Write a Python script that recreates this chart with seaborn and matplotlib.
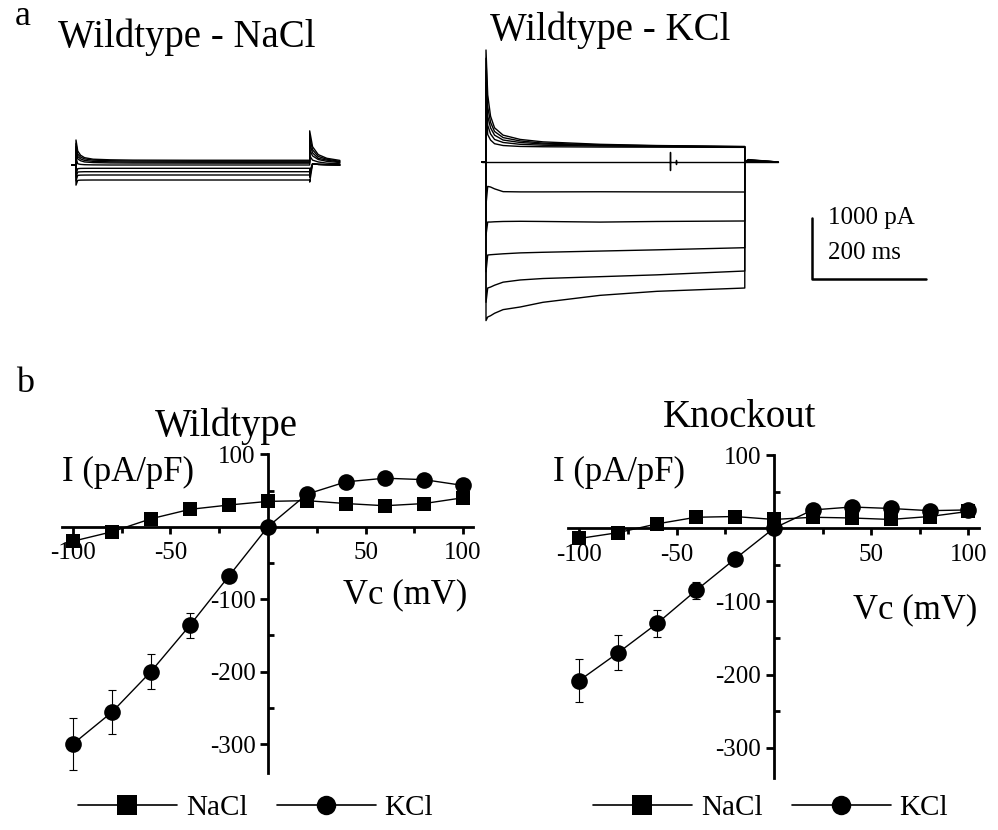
import numpy as np
import pandas as pd
import matplotlib
matplotlib.use("Agg")
import matplotlib.pyplot as plt
from matplotlib.lines import Line2D
import seaborn as sns

sns.set_theme(style="white")
plt.rcParams["font.family"] = ["Liberation Serif", "DejaVu Serif"]
plt.rcParams["axes.unicode_minus"] = False
plt.rcParams["text.color"] = "black"
plt.rcParams["xtick.color"] = "black"
plt.rcParams["ytick.color"] = "black"
plt.rcParams["axes.labelcolor"] = "black"

# ---------------- data: panel b (I-V curves) ----------------
voltage = [-100, -80, -60, -40, -20, 0, 20, 40, 60, 80, 100]
wt_nacl = [-20, -7, 11, 24, 30, 35, 36, 32, 29, 32, 40]
wt_kcl = [-300, -256, -200, -136, -68, 0, 45, 62, 67, 65, 57]
wt_kcl_err = [36, 30, 24, 17, 0, 0, 0, 0, 0, 0, 0]
ko_nacl = [-14, -6, 6, 15, 16, 12, 15, 14, 12, 16, 23]
ko_kcl = [-208, -170, -130, -85, -42, 0, 25, 29, 27, 24, 25]
ko_kcl_err = [29, 24, 18, 12, 0, 0, 0, 0, 0, 0, 0]
x_major = [-100, -50, 50, 100]
x_minor = [-75, -25, 25, 75]
y_major = [100, -100, -200, -300]
y_minor = [50, -50, -150, -250]

# ---------------- data: panel a (current traces, ms / pA) ----------------
t_na = [-7, 0, 0, 3, 8, 15, 30, 60, 100, 200, 300, 410, 410, 415, 425, 440, 463]
na_traces = [
    [0, 0, 410, 230, 160, 120, 95, 85, 80, 78, 78, 78, 560, 300, 170, 110, 75],
    [0, 0, 350, 180, 130, 100, 80, 70, 65, 62, 62, 62, 450, 250, 140, 95, 60],
    [0, 0, 300, 140, 100, 75, 60, 52, 48, 46, 45, 45, 350, 200, 110, 80, 50],
    [0, 0, 250, 100, 70, 50, 40, 34, 32, 31, 30, 30, 250, 150, 90, 60, 40],
    [0, 0, 120, 20, 10, 5, 2, 0, 0, 0, 0, 0, 150, 80, 50, 30, 20],
    [0, 0, -150, -60, -56, -55, -54, -54, -54, -54, -54, -54, -100, 20, 10, 5, 0],
    [0, 0, -200, -115, -112, -110, -110, -110, -110, -110, -110, -110, -150, 20, 10, 5, 0],
    [0, 0, -260, -170, -166, -165, -164, -164, -164, -164, -164, -164, -200, 20, 10, 5, 0],
    [0, 0, -330, -252, -248, -247, -246, -246, -246, -246, -246, -246, -280, 20, 10, 5, 0],
]

t_k = [-7, 0, 0, 3, 8, 15, 30, 60, 100, 200, 300, 454, 454, 460, 512]
k_traces = [
    [0, 0, 1836, 1100, 750, 560, 440, 370, 330, 290, 270, 255, 0, 40, 0],
    [0, 0, 1700, 900, 650, 500, 400, 345, 310, 280, 265, 250, 0, 35, 0],
    [0, 0, 1500, 750, 560, 440, 360, 320, 295, 272, 260, 248, 0, 30, 0],
    [0, 0, 1300, 600, 460, 370, 320, 290, 275, 262, 255, 245, 0, 25, 0],
    [0, 0, 1000, 450, 360, 300, 270, 255, 250, 245, 243, 240, 0, 20, 0],
    [0, 0, -700, -400, -410, -440, -486, -490, -490, -488, -490, -492, 0, 0, 0],
    [0, 0, -1200, -984, -984, -980, -975, -972, -975, -985, -975, -967, 0, 0, 0],
    [0, 0, -1800, -1525, -1520, -1515, -1505, -1490, -1480, -1460, -1440, -1405, 0, 0, 0],
    [0, 0, -2300, -2066, -2050, -2020, -1970, -1934, -1910, -1880, -1850, -1787, 0, 0, 0],
    [0, 0, -2600, -2541, -2520, -2480, -2420, -2377, -2300, -2186, -2120, -2066, 0, 0, 0],
]
t_k_zero = [-7, 323, 323, 323, 323, 333, 333, 333, 333, 512]
k_zero = [0, 0, 164, -131, 0, 0, 40, -40, 0, 0]

scale_t = [572, 572, 772]
scale_I = [-918, -1918, -1918]

# ---------------- figure ----------------
W, H = 998, 830
fig = plt.figure(figsize=(W / 100, H / 100), dpi=100)
fig.patch.set_facecolor("white")


def rect(x0, y0, x1, y1):
    return [x0 / W, 1 - y1 / H, (x1 - x0) / W, (y1 - y0) / H]


def fx(px):
    return px / W


def fy(py):
    return 1 - py / H


# ---- panel a: traces ----
ax_na = fig.add_axes(rect(64.6, 128.4, 64.6 + 285, 201.6))
for tr in na_traces:
    sns.lineplot(x=t_na, y=tr, sort=False, estimator=None, color="black",
                 lw=1.0, ax=ax_na)
ax_na.set_xlim(-20, 480)
ax_na.set_ylim(-600, 600)
ax_na.axis("off")

ax_k = fig.add_axes(rect(474.6, 40, 474.6 + 467.4, 326.7))
for tr in k_traces:
    sns.lineplot(x=t_k, y=tr, sort=False, estimator=None, color="black",
                 lw=1.0, ax=ax_k)
sns.lineplot(x=t_k_zero, y=k_zero, sort=False, estimator=None, color="black",
             lw=1.0, ax=ax_k)
sns.lineplot(x=scale_t, y=scale_I, sort=False, estimator=None, color="black",
             lw=1.8, ax=ax_k)
ax_k.text(600, -918, "1000 pA", fontsize=18, va="center", ha="left", color="black")
ax_k.text(600, -1492, "200 ms", fontsize=18, va="center", ha="left", color="black")
ax_k.set_xlim(-20, 800)
ax_k.set_ylim(-2700, 2000)
ax_k.axis("off")

fig.text(fx(15), fy(25), "a", fontsize=26, va="baseline")
fig.text(fx(58), fy(47), "Wildtype - NaCl", fontsize=28, va="baseline")
fig.text(fx(490), fy(40), "Wildtype - KCl", fontsize=28, va="baseline")

# ---- panel b: I-V plots ----
fig.text(fx(16), fy(392), "b", fontsize=26, va="baseline")


def iv_plot(ax, nacl, kcl, kerr):
    df = pd.DataFrame({"V": voltage, "NaCl": nacl, "KCl": kcl})
    sns.lineplot(data=df, x="V", y="NaCl", marker="s", markersize=10,
                 markeredgewidth=0, color="black", lw=1.0, ax=ax, clip_on=False)
    ax.errorbar(voltage, kcl, yerr=kerr, fmt="none", ecolor="black",
                elinewidth=0.8, capsize=3, capthick=0.8, zorder=2)
    sns.lineplot(data=df, x="V", y="KCl", marker="o", markersize=12,
                 markeredgewidth=0, color="black", lw=1.0, ax=ax, clip_on=False)
    ax.set_facecolor("none")
    for s in ["top", "right"]:
        ax.spines[s].set_visible(False)
    for s in ["left", "bottom"]:
        ax.spines[s].set_position(("data", 0))
        ax.spines[s].set_linewidth(2.0)
        ax.spines[s].set_color("black")
    ax.set_xticks(x_major)
    ax.set_xticks(x_minor, minor=True)
    ax.set_yticks(y_major)
    ax.set_yticks(y_minor, minor=True)
    ax.set_xticklabels([str(v) for v in x_major])
    ax.set_yticklabels([str(v) for v in y_major])
    ax.tick_params(axis="x", which="major", direction="out", length=5, width=2,
                   labelsize=18, pad=6, colors="black", bottom=True)
    ax.tick_params(axis="x", which="minor", direction="out", length=4, width=2,
                   bottom=True)
    ax.tick_params(axis="y", which="major", direction="out", length=6, width=2,
                   labelsize=18, pad=3, colors="black", left=True)
    ax.tick_params(axis="y", which="minor", direction="in", length=4, width=2,
                   left=True)
    for lab in ax.get_xticklabels() + ax.get_yticklabels():
        lab.set_fontfamily(["Liberation Serif", "DejaVu Serif"])
    ax.set_xlabel("")
    ax.set_ylabel("")
    ax.grid(False)


ax_wt = fig.add_axes(rect(62, 454.3, 473, 773))
iv_plot(ax_wt, wt_nacl, wt_kcl, wt_kcl_err)
ax_wt.set_xlim(-105.6, 105.1)
ax_wt.set_ylim(-340, 100)

ax_ko = fig.add_axes(rect(568.3, 455, 979, 778))
iv_plot(ax_ko, ko_nacl, ko_kcl, ko_kcl_err)
ax_ko.set_xlim(-105.6, 105.4)
ax_ko.set_ylim(-341, 100)

fig.text(fx(226.5), fy(436), "Wildtype", fontsize=28, ha="center", va="baseline")
fig.text(fx(740), fy(427), "Knockout", fontsize=28, ha="center", va="baseline")

fig.text(fx(62), fy(472), "I (pA/pF)", fontsize=25, ha="left", va="center")
fig.text(fx(343), fy(595), "Vc (mV)", fontsize=25, ha="left", va="center")
fig.text(fx(553), fy(472), "I (pA/pF)", fontsize=25, ha="left", va="center")
fig.text(fx(853), fy(610), "Vc (mV)", fontsize=25, ha="left", va="center")

# legends
handles = [
    Line2D([0], [0], color="black", lw=1.2, marker="s", markersize=14, markeredgewidth=0),
    Line2D([0], [0], color="black", lw=1.2, marker="o", markersize=14, markeredgewidth=0),
]
for cx in (255.5, 770.5):
    leg = fig.legend(handles, ["NaCl", "KCl"], loc="center", ncol=2,
                     bbox_to_anchor=(fx(cx), fy(808)), bbox_transform=fig.transFigure,
                     frameon=False, fontsize=21, handlelength=3.4, handletextpad=0.3,
                     columnspacing=1.0, numpoints=1, borderpad=0, borderaxespad=0)
    for t in leg.get_texts():
        t.set_color("black")

fig.savefig("out.png", dpi=100, facecolor="white")
